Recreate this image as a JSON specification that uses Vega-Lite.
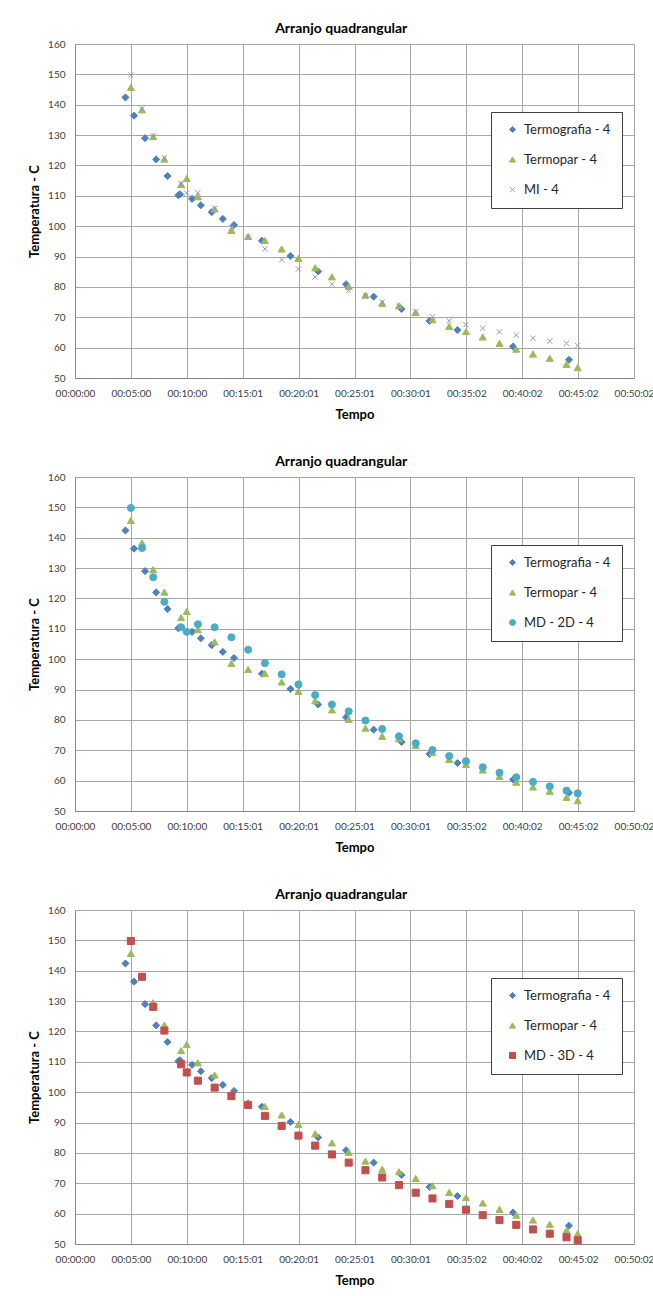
{
  "$schema": "https://vega.github.io/schema/vega-lite/v6.json",
  "background": "white",
  "padding": {"left": 28, "top": 21, "right": 0, "bottom": 0},
  "spacing": 32,
  "datasets": {
    "dados": [
      {"serie": "Termografia - 4", "tempo": 271, "temperatura": 142.4},
      {"serie": "Termografia - 4", "tempo": 317, "temperatura": 136.4},
      {"serie": "Termografia - 4", "tempo": 376, "temperatura": 129.0},
      {"serie": "Termografia - 4", "tempo": 436, "temperatura": 122.0},
      {"serie": "Termografia - 4", "tempo": 497, "temperatura": 116.5},
      {"serie": "Termografia - 4", "tempo": 555, "temperatura": 110.2},
      {"serie": "Termografia - 4", "tempo": 564, "temperatura": 110.5},
      {"serie": "Termografia - 4", "tempo": 629, "temperatura": 109.0},
      {"serie": "Termografia - 4", "tempo": 676, "temperatura": 106.9},
      {"serie": "Termografia - 4", "tempo": 734, "temperatura": 104.6},
      {"serie": "Termografia - 4", "tempo": 794, "temperatura": 102.4},
      {"serie": "Termografia - 4", "tempo": 854, "temperatura": 100.4},
      {"serie": "Termografia - 4", "tempo": 1004, "temperatura": 95.2},
      {"serie": "Termografia - 4", "tempo": 1157, "temperatura": 90.2},
      {"serie": "Termografia - 4", "tempo": 1306, "temperatura": 85.1},
      {"serie": "Termografia - 4", "tempo": 1456, "temperatura": 80.9},
      {"serie": "Termografia - 4", "tempo": 1604, "temperatura": 76.8},
      {"serie": "Termografia - 4", "tempo": 1754, "temperatura": 72.7},
      {"serie": "Termografia - 4", "tempo": 1904, "temperatura": 68.8},
      {"serie": "Termografia - 4", "tempo": 2054, "temperatura": 65.8},
      {"serie": "Termografia - 4", "tempo": 2353, "temperatura": 60.4},
      {"serie": "Termografia - 4", "tempo": 2653, "temperatura": 56.0},

      {"serie": "Termopar - 4", "tempo": 300, "temperatura": 145.7},
      {"serie": "Termopar - 4", "tempo": 360, "temperatura": 138.3},
      {"serie": "Termopar - 4", "tempo": 420, "temperatura": 129.5},
      {"serie": "Termopar - 4", "tempo": 480, "temperatura": 122.1},
      {"serie": "Termopar - 4", "tempo": 570, "temperatura": 113.7},
      {"serie": "Termopar - 4", "tempo": 600, "temperatura": 115.7},
      {"serie": "Termopar - 4", "tempo": 660, "temperatura": 109.7},
      {"serie": "Termopar - 4", "tempo": 750, "temperatura": 105.7},
      {"serie": "Termopar - 4", "tempo": 840, "temperatura": 98.6},
      {"serie": "Termopar - 4", "tempo": 930, "temperatura": 96.6},
      {"serie": "Termopar - 4", "tempo": 1020, "temperatura": 95.3},
      {"serie": "Termopar - 4", "tempo": 1110, "temperatura": 92.5},
      {"serie": "Termopar - 4", "tempo": 1200, "temperatura": 89.4},
      {"serie": "Termopar - 4", "tempo": 1290, "temperatura": 86.3},
      {"serie": "Termopar - 4", "tempo": 1380, "temperatura": 83.3},
      {"serie": "Termopar - 4", "tempo": 1470, "temperatura": 80.2},
      {"serie": "Termopar - 4", "tempo": 1560, "temperatura": 77.3},
      {"serie": "Termopar - 4", "tempo": 1650, "temperatura": 74.6},
      {"serie": "Termopar - 4", "tempo": 1740, "temperatura": 73.8},
      {"serie": "Termopar - 4", "tempo": 1830, "temperatura": 71.6},
      {"serie": "Termopar - 4", "tempo": 1920, "temperatura": 69.2},
      {"serie": "Termopar - 4", "tempo": 2010, "temperatura": 67.0},
      {"serie": "Termopar - 4", "tempo": 2100, "temperatura": 65.3},
      {"serie": "Termopar - 4", "tempo": 2190, "temperatura": 63.5},
      {"serie": "Termopar - 4", "tempo": 2280, "temperatura": 61.4},
      {"serie": "Termopar - 4", "tempo": 2370, "temperatura": 59.5},
      {"serie": "Termopar - 4", "tempo": 2460, "temperatura": 57.9},
      {"serie": "Termopar - 4", "tempo": 2550, "temperatura": 56.5},
      {"serie": "Termopar - 4", "tempo": 2640, "temperatura": 54.5},
      {"serie": "Termopar - 4", "tempo": 2700, "temperatura": 53.4},

      {"serie": "MI - 4", "tempo": 300, "temperatura": 149.8},
      {"serie": "MI - 4", "tempo": 360, "temperatura": 138.7},
      {"serie": "MI - 4", "tempo": 420, "temperatura": 129.7},
      {"serie": "MI - 4", "tempo": 480, "temperatura": 122.6},
      {"serie": "MI - 4", "tempo": 570, "temperatura": 114.0},
      {"serie": "MI - 4", "tempo": 600, "temperatura": 110.9},
      {"serie": "MI - 4", "tempo": 660, "temperatura": 111.0},
      {"serie": "MI - 4", "tempo": 750, "temperatura": 105.8},
      {"serie": "MI - 4", "tempo": 840, "temperatura": 99.5},
      {"serie": "MI - 4", "tempo": 930, "temperatura": 96.4},
      {"serie": "MI - 4", "tempo": 1020, "temperatura": 92.5},
      {"serie": "MI - 4", "tempo": 1110, "temperatura": 88.9},
      {"serie": "MI - 4", "tempo": 1200, "temperatura": 85.9},
      {"serie": "MI - 4", "tempo": 1290, "temperatura": 83.3},
      {"serie": "MI - 4", "tempo": 1380, "temperatura": 80.9},
      {"serie": "MI - 4", "tempo": 1470, "temperatura": 78.8},
      {"serie": "MI - 4", "tempo": 1560, "temperatura": 77.0},
      {"serie": "MI - 4", "tempo": 1650, "temperatura": 75.0},
      {"serie": "MI - 4", "tempo": 1740, "temperatura": 73.6},
      {"serie": "MI - 4", "tempo": 1830, "temperatura": 71.9},
      {"serie": "MI - 4", "tempo": 1920, "temperatura": 70.2},
      {"serie": "MI - 4", "tempo": 2010, "temperatura": 68.8},
      {"serie": "MI - 4", "tempo": 2100, "temperatura": 67.6},
      {"serie": "MI - 4", "tempo": 2190, "temperatura": 66.4},
      {"serie": "MI - 4", "tempo": 2280, "temperatura": 65.2},
      {"serie": "MI - 4", "tempo": 2370, "temperatura": 64.1},
      {"serie": "MI - 4", "tempo": 2460, "temperatura": 63.1},
      {"serie": "MI - 4", "tempo": 2550, "temperatura": 62.1},
      {"serie": "MI - 4", "tempo": 2640, "temperatura": 61.4},
      {"serie": "MI - 4", "tempo": 2700, "temperatura": 60.7},

      {"serie": "MD - 2D - 4", "tempo": 300, "temperatura": 149.8},
      {"serie": "MD - 2D - 4", "tempo": 360, "temperatura": 136.6},
      {"serie": "MD - 2D - 4", "tempo": 420, "temperatura": 127.0},
      {"serie": "MD - 2D - 4", "tempo": 480, "temperatura": 118.9},
      {"serie": "MD - 2D - 4", "tempo": 570, "temperatura": 110.5},
      {"serie": "MD - 2D - 4", "tempo": 600, "temperatura": 109.0},
      {"serie": "MD - 2D - 4", "tempo": 660, "temperatura": 111.5},
      {"serie": "MD - 2D - 4", "tempo": 750, "temperatura": 110.5},
      {"serie": "MD - 2D - 4", "tempo": 840, "temperatura": 107.2},
      {"serie": "MD - 2D - 4", "tempo": 930, "temperatura": 103.1},
      {"serie": "MD - 2D - 4", "tempo": 1020, "temperatura": 98.7},
      {"serie": "MD - 2D - 4", "tempo": 1110, "temperatura": 95.0},
      {"serie": "MD - 2D - 4", "tempo": 1200, "temperatura": 91.7},
      {"serie": "MD - 2D - 4", "tempo": 1290, "temperatura": 88.2},
      {"serie": "MD - 2D - 4", "tempo": 1380, "temperatura": 85.1},
      {"serie": "MD - 2D - 4", "tempo": 1470, "temperatura": 82.8},
      {"serie": "MD - 2D - 4", "tempo": 1560, "temperatura": 79.8},
      {"serie": "MD - 2D - 4", "tempo": 1650, "temperatura": 77.0},
      {"serie": "MD - 2D - 4", "tempo": 1740, "temperatura": 74.6},
      {"serie": "MD - 2D - 4", "tempo": 1830, "temperatura": 72.3},
      {"serie": "MD - 2D - 4", "tempo": 1920, "temperatura": 70.1},
      {"serie": "MD - 2D - 4", "tempo": 2010, "temperatura": 68.1},
      {"serie": "MD - 2D - 4", "tempo": 2100, "temperatura": 66.4},
      {"serie": "MD - 2D - 4", "tempo": 2190, "temperatura": 64.4},
      {"serie": "MD - 2D - 4", "tempo": 2280, "temperatura": 62.6},
      {"serie": "MD - 2D - 4", "tempo": 2370, "temperatura": 61.1},
      {"serie": "MD - 2D - 4", "tempo": 2460, "temperatura": 59.6},
      {"serie": "MD - 2D - 4", "tempo": 2550, "temperatura": 58.1},
      {"serie": "MD - 2D - 4", "tempo": 2640, "temperatura": 56.7},
      {"serie": "MD - 2D - 4", "tempo": 2700, "temperatura": 55.8},

      {"serie": "MD - 3D - 4", "tempo": 300, "temperatura": 149.8},
      {"serie": "MD - 3D - 4", "tempo": 360, "temperatura": 138.0},
      {"serie": "MD - 3D - 4", "tempo": 420, "temperatura": 128.1},
      {"serie": "MD - 3D - 4", "tempo": 480, "temperatura": 120.3},
      {"serie": "MD - 3D - 4", "tempo": 570, "temperatura": 109.2},
      {"serie": "MD - 3D - 4", "tempo": 600, "temperatura": 106.5},
      {"serie": "MD - 3D - 4", "tempo": 660, "temperatura": 103.8},
      {"serie": "MD - 3D - 4", "tempo": 750, "temperatura": 101.5},
      {"serie": "MD - 3D - 4", "tempo": 840, "temperatura": 98.7},
      {"serie": "MD - 3D - 4", "tempo": 930, "temperatura": 95.8},
      {"serie": "MD - 3D - 4", "tempo": 1020, "temperatura": 92.2},
      {"serie": "MD - 3D - 4", "tempo": 1110, "temperatura": 88.9},
      {"serie": "MD - 3D - 4", "tempo": 1200, "temperatura": 85.7},
      {"serie": "MD - 3D - 4", "tempo": 1290, "temperatura": 82.4},
      {"serie": "MD - 3D - 4", "tempo": 1380, "temperatura": 79.5},
      {"serie": "MD - 3D - 4", "tempo": 1470, "temperatura": 76.8},
      {"serie": "MD - 3D - 4", "tempo": 1560, "temperatura": 74.3},
      {"serie": "MD - 3D - 4", "tempo": 1650, "temperatura": 71.9},
      {"serie": "MD - 3D - 4", "tempo": 1740, "temperatura": 69.4},
      {"serie": "MD - 3D - 4", "tempo": 1830, "temperatura": 66.9},
      {"serie": "MD - 3D - 4", "tempo": 1920, "temperatura": 65.0},
      {"serie": "MD - 3D - 4", "tempo": 2010, "temperatura": 63.2},
      {"serie": "MD - 3D - 4", "tempo": 2100, "temperatura": 61.3},
      {"serie": "MD - 3D - 4", "tempo": 2190, "temperatura": 59.5},
      {"serie": "MD - 3D - 4", "tempo": 2280, "temperatura": 57.9},
      {"serie": "MD - 3D - 4", "tempo": 2370, "temperatura": 56.3},
      {"serie": "MD - 3D - 4", "tempo": 2460, "temperatura": 54.8},
      {"serie": "MD - 3D - 4", "tempo": 2550, "temperatura": 53.4},
      {"serie": "MD - 3D - 4", "tempo": 2640, "temperatura": 52.2},
      {"serie": "MD - 3D - 4", "tempo": 2700, "temperatura": 51.2}
    ]
  },
  "data": {"name": "dados"},
  "resolve": {
    "scale": {"fill": "independent", "stroke": "independent", "shape": "independent"},
    "legend": {"fill": "independent", "stroke": "independent", "shape": "independent"}
  },
  "vconcat": [
    {
      "width": 559, "height": 334,
      "title": {"text": "Arranjo quadrangular"},
      "transform": [{"filter": {"field": "serie", "oneOf": ["Termografia - 4", "Termopar - 4", "MI - 4"]}}],
      "mark": {"type": "point", "size": 50, "strokeWidth": 1, "opacity": 1},
      "encoding": {
        "x": {"field": "tempo", "type": "quantitative", "title": "Tempo",
              "scale": {"domain": [0, 3002.4], "nice": false, "zero": false},
              "axis": {"values": [0, 300.24, 600.48, 900.72, 1200.96, 1501.2, 1801.44, 2101.68, 2401.92, 2702.16, 3002.4],
                       "labelExpr": "utcFormat(round(datum.value)*1000, '%H:%M:%S')"}},
        "y": {"field": "temperatura", "type": "quantitative", "title": "Temperatura - C",
              "scale": {"domain": [50, 160], "nice": false, "zero": false},
              "axis": {"values": [50, 60, 70, 80, 90, 100, 110, 120, 130, 140, 150, 160]}},
        "fill": {"field": "serie", "type": "nominal",
                 "scale": {"domain": ["Termografia - 4", "Termopar - 4", "MI - 4"], "range": ["#4F81BD", "#9BBB59", "transparent"]}},
        "stroke": {"field": "serie", "type": "nominal",
                   "scale": {"domain": ["Termografia - 4", "Termopar - 4", "MI - 4"], "range": ["#4F81BD", "#9BBB59", "#9D91C2"]}},
        "shape": {"field": "serie", "type": "nominal",
                  "scale": {"domain": ["Termografia - 4", "Termopar - 4", "MI - 4"], "range": ["diamond", "triangle-up", "M-0.75,-0.75L0.75,0.75M-0.75,0.75L0.75,-0.75"]}}
      }
    },
    {
      "width": 559, "height": 334,
      "title": {"text": "Arranjo quadrangular"},
      "transform": [{"filter": {"field": "serie", "oneOf": ["Termografia - 4", "Termopar - 4", "MD - 2D - 4"]}}],
      "mark": {"type": "point", "size": 50, "strokeWidth": 1, "opacity": 1},
      "encoding": {
        "x": {"field": "tempo", "type": "quantitative", "title": "Tempo",
              "scale": {"domain": [0, 3002.4], "nice": false, "zero": false},
              "axis": {"values": [0, 300.24, 600.48, 900.72, 1200.96, 1501.2, 1801.44, 2101.68, 2401.92, 2702.16, 3002.4],
                       "labelExpr": "utcFormat(round(datum.value)*1000, '%H:%M:%S')"}},
        "y": {"field": "temperatura", "type": "quantitative", "title": "Temperatura - C",
              "scale": {"domain": [50, 160], "nice": false, "zero": false},
              "axis": {"values": [50, 60, 70, 80, 90, 100, 110, 120, 130, 140, 150, 160]}},
        "fill": {"field": "serie", "type": "nominal",
                 "scale": {"domain": ["Termografia - 4", "Termopar - 4", "MD - 2D - 4"], "range": ["#4F81BD", "#9BBB59", "#4BACC6"]}},
        "stroke": {"field": "serie", "type": "nominal",
                   "scale": {"domain": ["Termografia - 4", "Termopar - 4", "MD - 2D - 4"], "range": ["#4F81BD", "#9BBB59", "#4BACC6"]}},
        "shape": {"field": "serie", "type": "nominal",
                  "scale": {"domain": ["Termografia - 4", "Termopar - 4", "MD - 2D - 4"], "range": ["diamond", "triangle-up", "circle"]}}
      }
    },
    {
      "width": 559, "height": 334,
      "title": {"text": "Arranjo quadrangular"},
      "transform": [{"filter": {"field": "serie", "oneOf": ["Termografia - 4", "Termopar - 4", "MD - 3D - 4"]}}],
      "mark": {"type": "point", "size": 50, "strokeWidth": 1, "opacity": 1},
      "encoding": {
        "x": {"field": "tempo", "type": "quantitative", "title": "Tempo",
              "scale": {"domain": [0, 3002.4], "nice": false, "zero": false},
              "axis": {"values": [0, 300.24, 600.48, 900.72, 1200.96, 1501.2, 1801.44, 2101.68, 2401.92, 2702.16, 3002.4],
                       "labelExpr": "utcFormat(round(datum.value)*1000, '%H:%M:%S')"}},
        "y": {"field": "temperatura", "type": "quantitative", "title": "Temperatura - C",
              "scale": {"domain": [50, 160], "nice": false, "zero": false},
              "axis": {"values": [50, 60, 70, 80, 90, 100, 110, 120, 130, 140, 150, 160]}},
        "fill": {"field": "serie", "type": "nominal",
                 "scale": {"domain": ["Termografia - 4", "Termopar - 4", "MD - 3D - 4"], "range": ["#4F81BD", "#9BBB59", "#C0504D"]}},
        "stroke": {"field": "serie", "type": "nominal",
                   "scale": {"domain": ["Termografia - 4", "Termopar - 4", "MD - 3D - 4"], "range": ["#4F81BD", "#9BBB59", "#C0504D"]}},
        "shape": {"field": "serie", "type": "nominal",
                  "scale": {"domain": ["Termografia - 4", "Termopar - 4", "MD - 3D - 4"], "range": ["diamond", "triangle-up", "square"]}}
      }
    }
  ],
  "config": {
    "font": "Lato",
    "view": {"stroke": "#a6a6a6", "strokeWidth": 1},
    "title": {"font": "Lato", "fontSize": 14, "fontWeight": "bold", "color": "#000000", "frame": "bounds", "anchor": "middle", "offset": 3},
    "axis": {
      "ticks": false, "tickSize": 0,
      "grid": true, "gridColor": "#a6a6a6", "gridWidth": 1,
      "domainColor": "#868686", "domainWidth": 1,
      "labelFont": "Lato", "labelFontSize": 10, "labelColor": "#404040",
      "labelPadding": 10, "labelFlush": false, "labelOverlap": false, "labelBound": false,
      "titleFont": "Lato", "titleFontSize": 13, "titleFontWeight": "bold", "titleColor": "#000000"
    },
    "axisX": {"titlePadding": 10},
    "axisY": {"titlePadding": 6},
    "legend": {
      "orient": "none", "legendX": 416, "legendY": 68,
      "title": null,
      "strokeColor": "#404040", "fillColor": "white",
      "padding": 11, "symbolOffset": 4,
      "rowPadding": 16, "labelOffset": 5,
      "labelFont": "Lato", "labelFontSize": 13, "labelColor": "#262626",
      "symbolSize": 36, "symbolStrokeWidth": 1
    }
  }
}
